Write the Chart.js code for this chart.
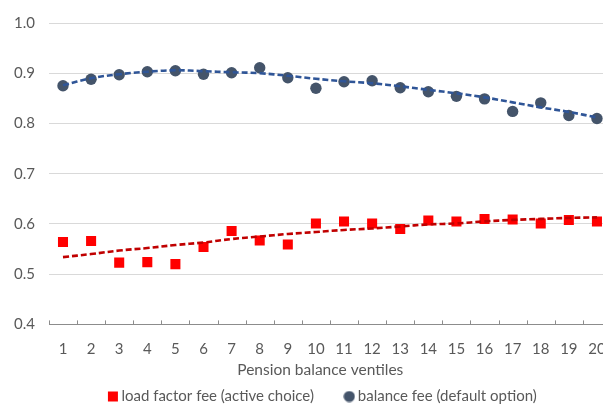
<!DOCTYPE html>
<html>
<head>
<meta charset="utf-8">
<script src="https://cdn.jsdelivr.net/npm/chart.js@4.4.1/dist/chart.umd.min.js"></script>
<style>
    html, body { margin: 0; padding: 0; background: #fff; overflow: hidden; }
    #wrap { width: 640px; height: 414px; }
</style>
</head>
<body>
<div id="wrap"><canvas id="chart" width="640" height="414"></canvas></div>
<script>
// Pension balance ventiles 1..20
const ventiles = ['1','2','3','4','5','6','7','8','9','10','11','12','13','14','15','16','17','18','19','20'];

// load factor fee (active choice) - red squares
const loadFactorFee = [0.564, 0.566, 0.523, 0.524, 0.520, 0.554, 0.586, 0.567, 0.559, 0.601,
                       0.605, 0.601, 0.590, 0.607, 0.605, 0.610, 0.609, 0.601, 0.608, 0.605];
// trend for load factor fee (dashed dark red)
const loadFactorTrend = [0.534, 0.540, 0.547, 0.552, 0.558, 0.563, 0.570, 0.575, 0.580, 0.584,
                         0.588, 0.591, 0.595, 0.599, 0.601, 0.605, 0.608, 0.610, 0.612, 0.613];

// balance fee (default option) - dark slate dots
const balanceFee = [0.875, 0.888, 0.897, 0.903, 0.905, 0.898, 0.901, 0.911, 0.891, 0.870,
                    0.883, 0.885, 0.871, 0.863, 0.854, 0.849, 0.824, 0.841, 0.816, 0.810];
// trend for balance fee (dashed blue)
const balanceTrend = [0.876, 0.890, 0.898, 0.903, 0.906, 0.904, 0.902, 0.900, 0.895, 0.889,
                      0.884, 0.880, 0.874, 0.867, 0.860, 0.852, 0.842, 0.832, 0.823, 0.812];

const yTicks = [0.4, 0.5, 0.6, 0.7, 0.8, 0.9, 1.0];

const FONT = 'Lato, "Open Sans", sans-serif';
const TEXT = '#595959';

// legend dot, a bit smaller than the library's default circle
const legendDot = document.createElement('canvas');
legendDot.width = 12;
legendDot.height = 12;
(function () {
    const c = legendDot.getContext('2d');
    c.fillStyle = '#44546a';
    c.beginPath();
    c.arc(6, 6, 5.6, 0, Math.PI * 2);
    c.fill();
})();

// small upward tick marks on the category axis
const axisTicks = {
    id: 'axisTicks',
    afterDatasetsDraw(chart) {
        const x = chart.scales.x;
        const y = chart.scales.y;
        const ctx = chart.ctx;
        const base = y.getPixelForValue(yTicks[0]);
        const half = (x.getPixelForValue(1) - x.getPixelForValue(0)) / 2;
        ctx.save();
        ctx.strokeStyle = '#8c8c8c';
        ctx.lineWidth = 1;
        ctx.beginPath();
        for (let i = 0; i <= ventiles.length; i++) {
            const px = Math.round(x.getPixelForValue(i) - half) + 0.5;
            ctx.moveTo(px, base);
            ctx.lineTo(px, base - 4);
        }
        ctx.stroke();
        ctx.restore();
    }
};

new Chart(document.getElementById('chart'), {
    type: 'line',
    data: {
        labels: ventiles,
        datasets: [
            {
                label: 'load factor fee (active choice)',
                data: loadFactorFee,
                showLine: false,
                pointStyle: 'rect',
                pointRadius: 7.1,
                pointBackgroundColor: '#ff0000',
                pointBorderColor: '#ff0000',
                pointBorderWidth: 0,
                backgroundColor: '#ff0000',
                borderColor: '#ff0000',
                order: 3
            },
            {
                label: 'balance fee (default option)',
                data: balanceFee,
                showLine: false,
                pointStyle: 'circle',
                pointRadius: 5.7,
                pointBackgroundColor: '#44546a',
                pointBorderColor: '#44546a',
                pointBorderWidth: 0,
                backgroundColor: '#44546a',
                borderColor: '#44546a',
                order: 4
            },
            {
                label: 'trend load',
                data: loadFactorTrend,
                borderColor: '#c00000',
                borderWidth: 2.6,
                borderDash: [6, 3],
                pointRadius: 0,
                tension: 0.4,
                fill: false,
                order: 1
            },
            {
                label: 'trend balance',
                data: balanceTrend,
                borderColor: '#2f5597',
                borderWidth: 2.6,
                borderDash: [6, 3],
                pointRadius: 0,
                tension: 0.4,
                fill: false,
                order: 2
            }
        ]
    },
    options: {
        responsive: false,
        animation: false,
        layout: { padding: { left: 0, right: 29, top: 12, bottom: 0 } },
        plugins: {
            tooltip: { enabled: false },
            title: {
                display: true,
                position: 'bottom',
                fullSize: false,
                text: 'Pension balance ventiles\u2003\u2002',
                color: TEXT,
                weight: 500,
                font: { family: FONT, size: 15.5, weight: 'normal' },
                padding: { top: -14, bottom: 2 }
            },
            legend: {
                position: 'bottom',
                fullSize: false,
                labels: {
                    usePointStyle: true,
                    boxWidth: 2,
                    boxHeight: 10,
                    padding: 8,
                    color: TEXT,
                    font: { family: FONT, size: 15 },
                    generateLabels: chart => {
                        const items = Chart.defaults.plugins.legend.labels.generateLabels(chart)
                            .filter(item => item.datasetIndex < 2);
                        items[0].text += '\u2003\u2003 ';
                        items[1].text += '\u2003';
                        items[1].pointStyle = legendDot;
                        return items;
                    }
                }
            }
        },
        scales: {
            x: {
                offset: true,
                grid: { display: false, drawTicks: false },
                border: { display: false },
                ticks: { color: TEXT, padding: 16, font: { family: FONT, size: 15 }, maxRotation: 0, autoSkip: false }
            },
            y: {
                min: 0.4,
                max: 1.0,
                afterBuildTicks: s => { s.ticks = yTicks.map(v => ({ value: v })); },
                grid: {
                    drawTicks: false,
                    lineWidth: 1,
                    color: c => (c.tick && c.tick.value === yTicks[0]) ? '#8c8c8c' : '#d9d9d9'
                },
                border: { display: false },
                ticks: {
                    color: TEXT,
                    padding: 14,
                    font: { family: FONT, size: 15 },
                    callback: v => Number(v).toFixed(1)
                }
            }
        }
    },
    plugins: [axisTicks]
});
</script>
</body>
</html>
